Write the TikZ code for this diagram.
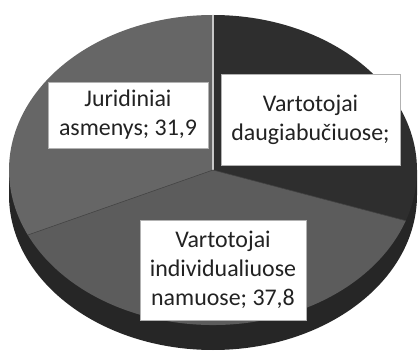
\documentclass[tikz,border=0pt]{standalone}
\usepackage{fontspec}
\setmainfont{Carlito}
\definecolor{sideC}{HTML}{262626}
\definecolor{jurC}{HTML}{666666}
\definecolor{daugC}{HTML}{2E2E2E}
\definecolor{indC}{HTML}{5C5C5C}
\definecolor{edgeC}{HTML}{C8C8C8}
\definecolor{txtC}{HTML}{222222}
\tikzset{
  lbl/.style={fill=white, draw=gray!60, line width=0.4pt, inner sep=0pt, align=center,
    text=txtC, font=\fontsize{24}{29}\selectfont},
  slicebord/.style={draw=edgeC, line width=1.2pt},
  softbord/.style={draw=gray!55!black, line width=0.6pt}
}
\begin{document}
\begin{tikzpicture}[x=1bp,y=1bp]
\useasboundingbox (0,0) rectangle (418,354);
\fill[white] (0,0) rectangle (418,354);
\coordinate (c) at (213,184);
% side of the pie
\fill[sideC] (9,184) -- (9,159) arc[start angle=180,end angle=360,x radius=204bp,y radius=155bp] -- (417,184) -- cycle;
% slices of the top face
\fill[jurC] (c) -- ++(90:204bp and 155bp) arc[start angle=90,end angle=204.8,x radius=204bp,y radius=155bp] -- cycle;
\fill[indC] (c) -- ++(204.8:204bp and 155bp) arc[start angle=204.8,end angle=340.9,x radius=204bp,y radius=155bp] -- cycle;
\fill[daugC] (c) -- ++(340.9:204bp and 155bp) arc[start angle=-19.1,end angle=90,x radius=204bp,y radius=155bp] -- cycle;
% slice borders
\draw[slicebord] (c) -- ++(90:204bp and 155bp);
\draw[softbord] (c) -- ++(204.8:204bp and 155bp);
\draw[softbord] (c) -- ++(340.9:204bp and 155bp);
% labels
\node[lbl, minimum width=160bp, minimum height=66bp] (jur) at (128,239) {Juridiniai\\asmenys; 31,9};
\node[lbl, minimum width=179bp, minimum height=91bp] (daug) at (310.5,234.5) {Vartotojai\\daugiabučiuose;};
\node[lbl, minimum width=166bp, minimum height=100bp] (ind) at (223,84) {Vartotojai\\individualiuose\\namuose; 37,8};
\end{tikzpicture}
\end{document}
